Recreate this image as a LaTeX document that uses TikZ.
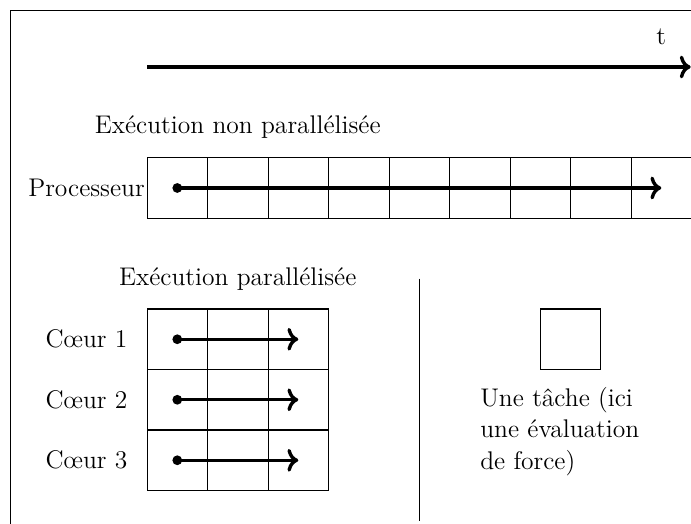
\documentclass[tikz,border=0pt]{standalone}
\usetikzlibrary{arrows.meta}
\begin{document}
\begin{tikzpicture}[x=1cm,y=1cm,
  lbl/.style={font=\large, inner sep=0pt},
  gridline/.style={line width=0.5pt},
  taskarrow/.style={line width=1.6pt, ->},
  timearrow/.style={line width=1.6pt, ->}]
\useasboundingbox (-2.430,-6.038) rectangle (8.990,2.607);
% frame
\draw[line width=0.5pt] (-2.25,-6.2) -- (-2.25,2.43) -- (9.2,2.43);
% time axis
\coordinate (t0) at (0,1.5);
\coordinate (t1) at (8.985,1.5);
\draw[timearrow] (t0) -- (t1);
\node[lbl] (tlab) at (8.5,2) {t};
% non parallel
\node[lbl] (titre1) at (1.5,0.5) {Exécution non parallélisée};
\draw[gridline] (0,-1) grid (9,0);
\node[lbl] (proc) at (-1,-0.5) {Processeur};
\coordinate (p0) at (0.5,-0.5);
\coordinate (p1) at (8.5,-0.5);
\draw[taskarrow] (p0) -- (p1);
\fill (p0) circle (2.3pt);
% parallel
\node[lbl] (titre2) at (1.5,-2) {Exécution parallélisée};
\draw[gridline, shift={(0,-2.5)}] (0,-3) grid (3,0);
\foreach \i/\y in {1/-3,2/-4,3/-5}{
  \node[lbl] (c\i) at (-1,\y) {Cœur \i};
  \coordinate (a\i) at (0.5,\y);
  \coordinate (b\i) at (2.5,\y);
  \draw[taskarrow] (a\i) -- (b\i);
  \fill (a\i) circle (2.3pt);
}
% separator
\coordinate (s0) at (4.5,-2);
\coordinate (s1) at (4.5,-6);
\draw[line width=0.5pt] (s0) -- (s1);
% legend
\node[draw, line width=0.5pt, minimum size=1cm, inner sep=0pt] (tache) at (7,-3) {};
\node[inner sep=0pt, anchor=base west, align=left, font={\fontsize{12}{15}\selectfont}] (desc) at (5.5,-5.158)
  {Une tâche (ici\\une évaluation\\de force)};
\end{tikzpicture}
\end{document}
